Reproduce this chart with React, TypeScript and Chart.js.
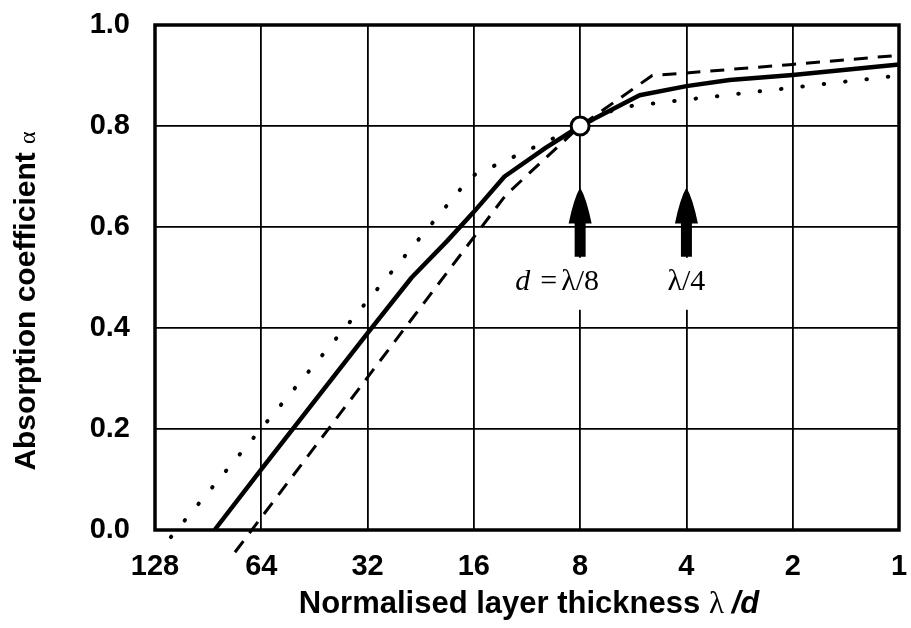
import React, { useEffect, useRef } from "react";
import { Chart, registerables } from "chart.js";

Chart.register(...registerables);

// ---- data ----
const xTickValues = [128, 64, 32, 16, 8, 4, 2, 1];
const yTickValues = [0, 0.2, 0.4, 0.6, 0.8, 1.0];

const solidLambda = [86.8, 64, 32, 24, 19, 16, 13.1, 10, 8, 5.43, 4, 3.02, 2, 1];
const solidAlpha = [0, 0.12, 0.39, 0.5, 0.573, 0.63, 0.7, 0.757, 0.8, 0.861, 0.879, 0.891, 0.901, 0.922];

const dashedLambda = [76, 13.0, 8, 5.0, 4, 2, 1];
const dashedAlpha = [-0.044, 0.663, 0.8, 0.9, 0.905, 0.922, 0.94];

const dottedLambda = [115.4, 16.3, 8, 6.2, 1];
const dottedAlpha = [-0.014, 0.7, 0.8, 0.837, 0.9];

const markerLambda = [8];
const markerAlpha = [0.8];

const arrowLambda = [8, 4];
const arrowTipAlpha = [0.678, 0.678];
const arrowBaseAlpha = [0.541, 0.541];
const arrowLabelPrefix = ["d", ""];
const arrowLabelMain = ["λ/8", "λ/4"];

const xTitleMain = "Normalised layer thickness ";
const xTitleSymbol = "λ";
const xTitleTail = "/d";
const yTitleMain = "Absorption coefficient ";
const yTitleSymbol = "α";

const SANS = "'Liberation Sans', Arial, sans-serif";
const SERIF = "'Liberation Serif', 'Times New Roman', serif";

const toPoints = (xs: number[], ys: number[]) => xs.map((x, i) => ({ x, y: ys[i] }));

const drawParts = (ctx: CanvasRenderingContext2D, parts: { t: string; f: string }[], cx: number, y: number) => {
  let total = 0;
  const widths = parts.map((p) => {
    ctx.font = p.f;
    const w = ctx.measureText(p.t).width;
    total += w;
    return w;
  });
  let x = cx - total / 2;
  parts.forEach((p, i) => {
    ctx.font = p.f;
    ctx.fillText(p.t, x, y);
    x += widths[i];
  });
};

const zeroPadding = (scale: any) => {
  scale.paddingTop = 0;
  scale.paddingBottom = 0;
  scale.paddingLeft = 0;
  scale.paddingRight = 0;
};

const decorPlugin = {
  id: "decor",
  afterDatasetsDraw(chart: any) {
    const { ctx, chartArea: a, scales } = chart;
    const xs = scales.x;
    const ys = scales.y;
    ctx.save();
    // frame
    ctx.strokeStyle = "#000";
    ctx.lineWidth = 3.5;
    ctx.strokeRect(a.left, a.top, a.right - a.left, a.bottom - a.top);

    arrowLambda.forEach((lv, i) => {
      const x = xs.getPixelForValue(lv);
      const yTip = ys.getPixelForValue(arrowTipAlpha[i]);
      const yBase = ys.getPixelForValue(arrowBaseAlpha[i]);
      const headLen = 36;
      const headHalf = 11.5;
      const shaftHalf = 5.5;
      const yHead = yTip + headLen;

      // label box + text
      ctx.font = `30px ${SERIF}`;
      const wm = ctx.measureText(arrowLabelMain[i]).width;
      const mainLeft = x - wm / 2;
      let left = mainLeft;
      const baseY = yBase + 33;
      let eqLeft = mainLeft;
      let dLeft = mainLeft;
      if (arrowLabelPrefix[i]) {
        const we = ctx.measureText("=").width;
        eqLeft = mainLeft - 4 - we;
        ctx.font = `italic 30px ${SERIF}`;
        const wd = ctx.measureText(arrowLabelPrefix[i]).width;
        dLeft = eqLeft - 10 - wd;
        left = dLeft;
      }
      ctx.fillStyle = "#fff";
      ctx.fillRect(left - 4, yBase + 1, x + wm / 2 + 4 - (left - 4), 52);
      ctx.fillStyle = "#000";
      ctx.textBaseline = "alphabetic";
      ctx.textAlign = "left";
      ctx.font = `30px ${SERIF}`;
      ctx.fillText(arrowLabelMain[i], mainLeft, baseY);
      if (arrowLabelPrefix[i]) {
        ctx.fillText("=", eqLeft, baseY);
        ctx.font = `italic 30px ${SERIF}`;
        ctx.fillText(arrowLabelPrefix[i], dLeft, baseY);
      }

      // arrow
      ctx.beginPath();
      ctx.moveTo(x, yTip);
      ctx.quadraticCurveTo(x + headHalf * 0.55, yTip + headLen * 0.3, x + headHalf, yHead);
      ctx.lineTo(x + shaftHalf, yHead);
      ctx.lineTo(x + shaftHalf, yBase);
      ctx.lineTo(x - shaftHalf, yBase);
      ctx.lineTo(x - shaftHalf, yHead);
      ctx.lineTo(x - headHalf, yHead);
      ctx.quadraticCurveTo(x - headHalf * 0.55, yTip + headLen * 0.3, x, yTip);
      ctx.closePath();
      ctx.fill();
    });
    ctx.restore();
  },
  afterDraw(chart: any) {
    const { ctx, chartArea: a } = chart;
    ctx.save();
    ctx.fillStyle = "#000";
    ctx.textBaseline = "alphabetic";
    ctx.textAlign = "left";
    drawParts(
      ctx,
      [
        { t: xTitleMain, f: `bold 31px ${SANS}` },
        { t: xTitleSymbol + " ", f: `31px ${SERIF}` },
        { t: xTitleTail, f: `italic bold 31px ${SANS}` },
      ],
      (a.left + a.right) / 2 + 2,
      613
    );
    ctx.translate(35, 301);
    ctx.rotate(-Math.PI / 2);
    drawParts(
      ctx,
      [
        { t: yTitleMain, f: `bold 30px ${SANS}` },
        { t: yTitleSymbol, f: `24px ${SERIF}` },
      ],
      0,
      0
    );
    ctx.restore();
  },
};

export default function App() {
  const ref = useRef<HTMLCanvasElement | null>(null);

  useEffect(() => {
    document.body.style.margin = "0";
    document.body.style.overflow = "hidden";
    const canvas = ref.current;
    if (!canvas) return;
    const tickFont = { family: SANS, size: 29, weight: "bold" as const };
    const chart = new Chart(canvas, {
      type: "line",
      data: {
        datasets: [
          {
            label: "marker",
            data: toPoints(markerLambda, markerAlpha),
            showLine: false,
            pointRadius: 9,
            pointBackgroundColor: "#fff",
            pointBorderColor: "#000",
            pointBorderWidth: 3,
            order: -1,
            clip: false as any,
          },
          {
            label: "solid",
            data: toPoints(solidLambda, solidAlpha),
            borderColor: "#000",
            borderWidth: 4.5,
            pointRadius: 0,
            tension: 0,
            borderJoinStyle: "round",
            clip: false as any,
          },
          {
            label: "dashed",
            data: toPoints(dashedLambda, dashedAlpha),
            borderColor: "#000",
            borderWidth: 3,
            borderDash: [14, 10],
            pointRadius: 0,
            tension: 0,
            clip: false as any,
          },
          {
            label: "dotted",
            data: toPoints(dottedLambda, dottedAlpha),
            borderColor: "#000",
            borderWidth: 4,
            borderDash: [0.5, 21],
            borderCapStyle: "round",
            pointRadius: 0,
            tension: 0,
            clip: false as any,
          },
        ],
      },
      options: {
        animation: false,
        responsive: false,
        devicePixelRatio: 1,
        layout: { padding: { top: 25, right: 8, left: 0, bottom: 0 } },
        plugins: { legend: { display: false }, tooltip: { enabled: false } },
        scales: {
          x: {
            type: "logarithmic",
            reverse: true,
            min: 1,
            max: 128,
            afterBuildTicks: (scale: any) => {
              scale.ticks = xTickValues.map((v) => ({ value: v }));
            },
            afterFit: (scale: any) => {
              scale.height = 98;
              zeroPadding(scale);
            },
            ticks: {
              autoSkip: false,
              maxRotation: 0,
              padding: 20,
              color: "#000",
              font: tickFont,
              callback: (v: any) => String(v),
            },
            grid: { color: "#000", lineWidth: 1.8, drawTicks: false },
            border: { display: false },
          },
          y: {
            type: "linear",
            min: 0,
            max: 1,
            afterBuildTicks: (scale: any) => {
              scale.ticks = yTickValues.map((v) => ({ value: v }));
            },
            afterFit: (scale: any) => {
              scale.width = 155;
              zeroPadding(scale);
            },
            ticks: {
              padding: 25,
              color: "#000",
              font: tickFont,
              callback: (v: any) => Number(v).toFixed(1),
            },
            grid: { color: "#000", lineWidth: 1.8, drawTicks: false },
            border: { display: false },
          },
        },
      },
      plugins: [decorPlugin],
    });
    return () => chart.destroy();
  }, []);

  return (
    <div style={{ width: 911, height: 628, background: "#fff" }}>
      <canvas ref={ref} width={911} height={628} style={{ display: "block" }} />
    </div>
  );
}
